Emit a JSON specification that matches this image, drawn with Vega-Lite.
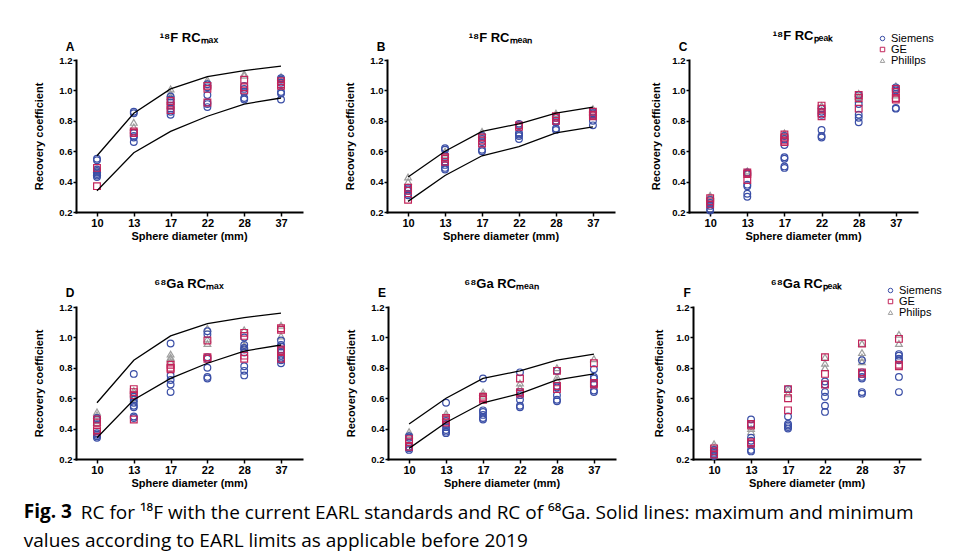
{
"$schema": "https://vega.github.io/schema/vega-lite/v6.json",
"background": "white",
"padding": {"left": 23, "top": 30, "right": 0, "bottom": 0},
"title": {"text": "Fig. 3", "subtitle": "values according to EARL limits as applicable before 2019", "orient": "bottom", "anchor": "start", "frame": "bounds", "font": "Open Sans", "fontSize": 19, "fontWeight": "bold", "color": "black", "subtitleFont": "Open Sans", "subtitleFontSize": 19, "subtitleFontWeight": "normal", "subtitleColor": "black", "subtitlePadding": 10, "offset": -20, "dx": -10},
"datasets": {
"earl": [
{"t":"max","b":"upper","d":10,"rc":0.57},{"t":"max","b":"upper","d":13,"rc":0.85},{"t":"max","b":"upper","d":17,"rc":1.01},{"t":"max","b":"upper","d":22,"rc":1.09},{"t":"max","b":"upper","d":28,"rc":1.13},{"t":"max","b":"upper","d":37,"rc":1.16},
{"t":"max","b":"lower","d":10,"rc":0.34},{"t":"max","b":"lower","d":13,"rc":0.59},{"t":"max","b":"lower","d":17,"rc":0.73},{"t":"max","b":"lower","d":22,"rc":0.83},{"t":"max","b":"lower","d":28,"rc":0.91},{"t":"max","b":"lower","d":37,"rc":0.95},
{"t":"mean","b":"upper","d":10,"rc":0.43},{"t":"mean","b":"upper","d":13,"rc":0.60},{"t":"mean","b":"upper","d":17,"rc":0.73},{"t":"mean","b":"upper","d":22,"rc":0.78},{"t":"mean","b":"upper","d":28,"rc":0.85},{"t":"mean","b":"upper","d":37,"rc":0.89},
{"t":"mean","b":"lower","d":10,"rc":0.27},{"t":"mean","b":"lower","d":13,"rc":0.44},{"t":"mean","b":"lower","d":17,"rc":0.57},{"t":"mean","b":"lower","d":22,"rc":0.63},{"t":"mean","b":"lower","d":28,"rc":0.72},{"t":"mean","b":"lower","d":37,"rc":0.76}
],
"pts": [
{"p":"A","d":10,"v":"Philips","rc":0.48},{"p":"A","d":10,"v":"Philips","rc":0.46},
{"p":"A","d":10,"v":"Siemens","rc":0.55},{"p":"A","d":10,"v":"Siemens","rc":0.54},{"p":"A","d":10,"v":"Siemens","rc":0.48},{"p":"A","d":10,"v":"Siemens","rc":0.47},{"p":"A","d":10,"v":"Siemens","rc":0.46},{"p":"A","d":10,"v":"Siemens","rc":0.45},{"p":"A","d":10,"v":"Siemens","rc":0.44},{"p":"A","d":10,"v":"Siemens","rc":0.43},
{"p":"A","d":10,"v":"GE","rc":0.49},{"p":"A","d":10,"v":"GE","rc":0.37},
{"p":"A","d":13,"v":"Philips","rc":0.79},{"p":"A","d":13,"v":"Philips","rc":0.76},
{"p":"A","d":13,"v":"Siemens","rc":0.86},{"p":"A","d":13,"v":"Siemens","rc":0.85},{"p":"A","d":13,"v":"Siemens","rc":0.72},{"p":"A","d":13,"v":"Siemens","rc":0.70},{"p":"A","d":13,"v":"Siemens","rc":0.69},{"p":"A","d":13,"v":"Siemens","rc":0.66},
{"p":"A","d":13,"v":"GE","rc":0.73},{"p":"A","d":13,"v":"GE","rc":0.72},
{"p":"A","d":17,"v":"Philips","rc":1.01},{"p":"A","d":17,"v":"Philips","rc":0.98},{"p":"A","d":17,"v":"Philips","rc":0.96},
{"p":"A","d":17,"v":"Siemens","rc":0.96},{"p":"A","d":17,"v":"Siemens","rc":0.94},{"p":"A","d":17,"v":"Siemens","rc":0.92},{"p":"A","d":17,"v":"Siemens","rc":0.90},{"p":"A","d":17,"v":"Siemens","rc":0.88},{"p":"A","d":17,"v":"Siemens","rc":0.86},{"p":"A","d":17,"v":"Siemens","rc":0.84},
{"p":"A","d":17,"v":"GE","rc":0.93},{"p":"A","d":17,"v":"GE","rc":0.90},{"p":"A","d":17,"v":"GE","rc":0.87},
{"p":"A","d":22,"v":"Philips","rc":1.07},{"p":"A","d":22,"v":"Philips","rc":1.05},
{"p":"A","d":22,"v":"Siemens","rc":1.04},{"p":"A","d":22,"v":"Siemens","rc":1.02},{"p":"A","d":22,"v":"Siemens","rc":0.97},{"p":"A","d":22,"v":"Siemens","rc":0.92},{"p":"A","d":22,"v":"Siemens","rc":0.91},{"p":"A","d":22,"v":"Siemens","rc":0.89},
{"p":"A","d":22,"v":"GE","rc":1.03},{"p":"A","d":22,"v":"GE","rc":1.01},{"p":"A","d":22,"v":"GE","rc":0.92},
{"p":"A","d":28,"v":"Philips","rc":1.11},{"p":"A","d":28,"v":"Philips","rc":1.10},
{"p":"A","d":28,"v":"Siemens","rc":1.03},{"p":"A","d":28,"v":"Siemens","rc":1.01},{"p":"A","d":28,"v":"Siemens","rc":0.99},{"p":"A","d":28,"v":"Siemens","rc":0.95},{"p":"A","d":28,"v":"Siemens","rc":0.94},
{"p":"A","d":28,"v":"GE","rc":1.07},{"p":"A","d":28,"v":"GE","rc":1.02},{"p":"A","d":28,"v":"GE","rc":1.00},
{"p":"A","d":37,"v":"Philips","rc":1.09},{"p":"A","d":37,"v":"Philips","rc":1.07},
{"p":"A","d":37,"v":"Siemens","rc":1.08},{"p":"A","d":37,"v":"Siemens","rc":1.07},{"p":"A","d":37,"v":"Siemens","rc":1.05},{"p":"A","d":37,"v":"Siemens","rc":0.99},{"p":"A","d":37,"v":"Siemens","rc":0.98},{"p":"A","d":37,"v":"Siemens","rc":0.94},
{"p":"A","d":37,"v":"GE","rc":1.06},{"p":"A","d":37,"v":"GE","rc":1.04},{"p":"A","d":37,"v":"GE","rc":1.03},

{"p":"B","d":10,"v":"Philips","rc":0.43},{"p":"B","d":10,"v":"Philips","rc":0.40},
{"p":"B","d":10,"v":"Siemens","rc":0.36},{"p":"B","d":10,"v":"Siemens","rc":0.35},{"p":"B","d":10,"v":"Siemens","rc":0.34},{"p":"B","d":10,"v":"Siemens","rc":0.32},{"p":"B","d":10,"v":"Siemens","rc":0.31},
{"p":"B","d":10,"v":"GE","rc":0.36},{"p":"B","d":10,"v":"GE","rc":0.34},{"p":"B","d":10,"v":"GE","rc":0.28},
{"p":"B","d":13,"v":"Philips","rc":0.60},{"p":"B","d":13,"v":"Philips","rc":0.58},
{"p":"B","d":13,"v":"Siemens","rc":0.62},{"p":"B","d":13,"v":"Siemens","rc":0.61},{"p":"B","d":13,"v":"Siemens","rc":0.57},{"p":"B","d":13,"v":"Siemens","rc":0.53},{"p":"B","d":13,"v":"Siemens","rc":0.51},{"p":"B","d":13,"v":"Siemens","rc":0.49},{"p":"B","d":13,"v":"Siemens","rc":0.48},
{"p":"B","d":13,"v":"GE","rc":0.56},{"p":"B","d":13,"v":"GE","rc":0.55},{"p":"B","d":13,"v":"GE","rc":0.53},
{"p":"B","d":17,"v":"Philips","rc":0.73},{"p":"B","d":17,"v":"Philips","rc":0.71},
{"p":"B","d":17,"v":"Siemens","rc":0.70},{"p":"B","d":17,"v":"Siemens","rc":0.68},{"p":"B","d":17,"v":"Siemens","rc":0.66},{"p":"B","d":17,"v":"Siemens","rc":0.61},{"p":"B","d":17,"v":"Siemens","rc":0.60},
{"p":"B","d":17,"v":"GE","rc":0.69},{"p":"B","d":17,"v":"GE","rc":0.67},{"p":"B","d":17,"v":"GE","rc":0.65},
{"p":"B","d":22,"v":"Philips","rc":0.78},
{"p":"B","d":22,"v":"Siemens","rc":0.78},{"p":"B","d":22,"v":"Siemens","rc":0.77},{"p":"B","d":22,"v":"Siemens","rc":0.72},{"p":"B","d":22,"v":"Siemens","rc":0.71},{"p":"B","d":22,"v":"Siemens","rc":0.70},{"p":"B","d":22,"v":"Siemens","rc":0.68},
{"p":"B","d":22,"v":"GE","rc":0.77},{"p":"B","d":22,"v":"GE","rc":0.76},
{"p":"B","d":28,"v":"Philips","rc":0.85},{"p":"B","d":28,"v":"Philips","rc":0.84},
{"p":"B","d":28,"v":"Siemens","rc":0.82},{"p":"B","d":28,"v":"Siemens","rc":0.80},{"p":"B","d":28,"v":"Siemens","rc":0.79},{"p":"B","d":28,"v":"Siemens","rc":0.75},{"p":"B","d":28,"v":"Siemens","rc":0.74},
{"p":"B","d":28,"v":"GE","rc":0.83},{"p":"B","d":28,"v":"GE","rc":0.82},{"p":"B","d":28,"v":"GE","rc":0.80},
{"p":"B","d":37,"v":"Philips","rc":0.88},{"p":"B","d":37,"v":"Philips","rc":0.86},
{"p":"B","d":37,"v":"Siemens","rc":0.86},{"p":"B","d":37,"v":"Siemens","rc":0.85},{"p":"B","d":37,"v":"Siemens","rc":0.84},{"p":"B","d":37,"v":"Siemens","rc":0.80},{"p":"B","d":37,"v":"Siemens","rc":0.77},
{"p":"B","d":37,"v":"GE","rc":0.86},{"p":"B","d":37,"v":"GE","rc":0.84},{"p":"B","d":37,"v":"GE","rc":0.83},

{"p":"C","d":10,"v":"Philips","rc":0.31},{"p":"C","d":10,"v":"Philips","rc":0.30},
{"p":"C","d":10,"v":"Siemens","rc":0.28},{"p":"C","d":10,"v":"Siemens","rc":0.26},{"p":"C","d":10,"v":"Siemens","rc":0.24},{"p":"C","d":10,"v":"Siemens","rc":0.22},{"p":"C","d":10,"v":"Siemens","rc":0.21},
{"p":"C","d":10,"v":"GE","rc":0.29},{"p":"C","d":10,"v":"GE","rc":0.27},{"p":"C","d":10,"v":"GE","rc":0.25},
{"p":"C","d":13,"v":"Philips","rc":0.47},{"p":"C","d":13,"v":"Philips","rc":0.46},
{"p":"C","d":13,"v":"Siemens","rc":0.46},{"p":"C","d":13,"v":"Siemens","rc":0.45},{"p":"C","d":13,"v":"Siemens","rc":0.38},{"p":"C","d":13,"v":"Siemens","rc":0.37},{"p":"C","d":13,"v":"Siemens","rc":0.32},{"p":"C","d":13,"v":"Siemens","rc":0.30},
{"p":"C","d":13,"v":"GE","rc":0.46},{"p":"C","d":13,"v":"GE","rc":0.45},{"p":"C","d":13,"v":"GE","rc":0.41},
{"p":"C","d":17,"v":"Philips","rc":0.72},{"p":"C","d":17,"v":"Philips","rc":0.70},
{"p":"C","d":17,"v":"Siemens","rc":0.70},{"p":"C","d":17,"v":"Siemens","rc":0.68},{"p":"C","d":17,"v":"Siemens","rc":0.64},{"p":"C","d":17,"v":"Siemens","rc":0.56},{"p":"C","d":17,"v":"Siemens","rc":0.55},{"p":"C","d":17,"v":"Siemens","rc":0.50},{"p":"C","d":17,"v":"Siemens","rc":0.49},
{"p":"C","d":17,"v":"GE","rc":0.71},{"p":"C","d":17,"v":"GE","rc":0.69},{"p":"C","d":17,"v":"GE","rc":0.67},{"p":"C","d":17,"v":"GE","rc":0.66},
{"p":"C","d":22,"v":"Philips","rc":0.90},{"p":"C","d":22,"v":"Philips","rc":0.87},
{"p":"C","d":22,"v":"Siemens","rc":0.88},{"p":"C","d":22,"v":"Siemens","rc":0.86},{"p":"C","d":22,"v":"Siemens","rc":0.84},{"p":"C","d":22,"v":"Siemens","rc":0.74},{"p":"C","d":22,"v":"Siemens","rc":0.70},{"p":"C","d":22,"v":"Siemens","rc":0.69},
{"p":"C","d":22,"v":"GE","rc":0.90},{"p":"C","d":22,"v":"GE","rc":0.88},{"p":"C","d":22,"v":"GE","rc":0.85},{"p":"C","d":22,"v":"GE","rc":0.83},
{"p":"C","d":28,"v":"Philips","rc":0.98},{"p":"C","d":28,"v":"Philips","rc":0.96},{"p":"C","d":28,"v":"Philips","rc":0.94},
{"p":"C","d":28,"v":"Siemens","rc":0.97},{"p":"C","d":28,"v":"Siemens","rc":0.91},{"p":"C","d":28,"v":"Siemens","rc":0.84},{"p":"C","d":28,"v":"Siemens","rc":0.82},{"p":"C","d":28,"v":"Siemens","rc":0.79},
{"p":"C","d":28,"v":"GE","rc":0.97},{"p":"C","d":28,"v":"GE","rc":0.95},{"p":"C","d":28,"v":"GE","rc":0.88},
{"p":"C","d":37,"v":"Philips","rc":1.03},{"p":"C","d":37,"v":"Philips","rc":0.97},
{"p":"C","d":37,"v":"Siemens","rc":1.02},{"p":"C","d":37,"v":"Siemens","rc":1.01},{"p":"C","d":37,"v":"Siemens","rc":1.00},{"p":"C","d":37,"v":"Siemens","rc":0.88},{"p":"C","d":37,"v":"Siemens","rc":0.885},
{"p":"C","d":37,"v":"GE","rc":1.01},{"p":"C","d":37,"v":"GE","rc":0.99},{"p":"C","d":37,"v":"GE","rc":0.95},{"p":"C","d":37,"v":"GE","rc":0.94},

{"p":"D","d":10,"v":"Philips","rc":0.51},{"p":"D","d":10,"v":"Philips","rc":0.49},{"p":"D","d":10,"v":"Philips","rc":0.44},
{"p":"D","d":10,"v":"Siemens","rc":0.47},{"p":"D","d":10,"v":"Siemens","rc":0.46},{"p":"D","d":10,"v":"Siemens","rc":0.37},{"p":"D","d":10,"v":"Siemens","rc":0.36},{"p":"D","d":10,"v":"Siemens","rc":0.35},{"p":"D","d":10,"v":"Siemens","rc":0.34},
{"p":"D","d":10,"v":"GE","rc":0.46},{"p":"D","d":10,"v":"GE","rc":0.44},{"p":"D","d":10,"v":"GE","rc":0.39},{"p":"D","d":10,"v":"GE","rc":0.38},
{"p":"D","d":13,"v":"Philips","rc":0.65},{"p":"D","d":13,"v":"Philips","rc":0.63},{"p":"D","d":13,"v":"Philips","rc":0.60},
{"p":"D","d":13,"v":"Siemens","rc":0.76},{"p":"D","d":13,"v":"Siemens","rc":0.61},{"p":"D","d":13,"v":"Siemens","rc":0.59},{"p":"D","d":13,"v":"Siemens","rc":0.57},{"p":"D","d":13,"v":"Siemens","rc":0.55},{"p":"D","d":13,"v":"Siemens","rc":0.54},{"p":"D","d":13,"v":"Siemens","rc":0.48},{"p":"D","d":13,"v":"Siemens","rc":0.47},
{"p":"D","d":13,"v":"GE","rc":0.66},{"p":"D","d":13,"v":"GE","rc":0.64},{"p":"D","d":13,"v":"GE","rc":0.62},{"p":"D","d":13,"v":"GE","rc":0.46},
{"p":"D","d":17,"v":"Philips","rc":0.89},{"p":"D","d":17,"v":"Philips","rc":0.87},{"p":"D","d":17,"v":"Philips","rc":0.86},{"p":"D","d":17,"v":"Philips","rc":0.84},
{"p":"D","d":17,"v":"Siemens","rc":0.96},{"p":"D","d":17,"v":"Siemens","rc":0.75},{"p":"D","d":17,"v":"Siemens","rc":0.72},{"p":"D","d":17,"v":"Siemens","rc":0.69},{"p":"D","d":17,"v":"Siemens","rc":0.64},
{"p":"D","d":17,"v":"GE","rc":0.82},{"p":"D","d":17,"v":"GE","rc":0.80},{"p":"D","d":17,"v":"GE","rc":0.79},
{"p":"D","d":22,"v":"Philips","rc":1.06},{"p":"D","d":22,"v":"Philips","rc":0.99},{"p":"D","d":22,"v":"Philips","rc":0.96},
{"p":"D","d":22,"v":"Siemens","rc":1.04},{"p":"D","d":22,"v":"Siemens","rc":1.02},{"p":"D","d":22,"v":"Siemens","rc":0.87},{"p":"D","d":22,"v":"Siemens","rc":0.86},{"p":"D","d":22,"v":"Siemens","rc":0.80},{"p":"D","d":22,"v":"Siemens","rc":0.74},{"p":"D","d":22,"v":"Siemens","rc":0.73},
{"p":"D","d":22,"v":"GE","rc":0.98},{"p":"D","d":22,"v":"GE","rc":0.87},{"p":"D","d":22,"v":"GE","rc":0.86},
{"p":"D","d":28,"v":"Philips","rc":1.05},{"p":"D","d":28,"v":"Philips","rc":0.95},{"p":"D","d":28,"v":"Philips","rc":0.94},
{"p":"D","d":28,"v":"Siemens","rc":1.00},{"p":"D","d":28,"v":"Siemens","rc":0.95},{"p":"D","d":28,"v":"Siemens","rc":0.93},{"p":"D","d":28,"v":"Siemens","rc":0.92},{"p":"D","d":28,"v":"Siemens","rc":0.90},{"p":"D","d":28,"v":"Siemens","rc":0.81},{"p":"D","d":28,"v":"Siemens","rc":0.78},{"p":"D","d":28,"v":"Siemens","rc":0.75},
{"p":"D","d":28,"v":"GE","rc":1.03},{"p":"D","d":28,"v":"GE","rc":1.01},{"p":"D","d":28,"v":"GE","rc":0.88},{"p":"D","d":28,"v":"GE","rc":0.86},
{"p":"D","d":37,"v":"Philips","rc":1.08},{"p":"D","d":37,"v":"Philips","rc":1.01},
{"p":"D","d":37,"v":"Siemens","rc":0.98},{"p":"D","d":37,"v":"Siemens","rc":0.95},{"p":"D","d":37,"v":"Siemens","rc":0.94},{"p":"D","d":37,"v":"Siemens","rc":0.92},{"p":"D","d":37,"v":"Siemens","rc":0.90},{"p":"D","d":37,"v":"Siemens","rc":0.88},{"p":"D","d":37,"v":"Siemens","rc":0.86},{"p":"D","d":37,"v":"Siemens","rc":0.85},{"p":"D","d":37,"v":"Siemens","rc":0.83},
{"p":"D","d":37,"v":"GE","rc":1.06},{"p":"D","d":37,"v":"GE","rc":1.05},{"p":"D","d":37,"v":"GE","rc":0.92},{"p":"D","d":37,"v":"GE","rc":0.91},{"p":"D","d":37,"v":"GE","rc":0.86},

{"p":"E","d":10,"v":"Philips","rc":0.38},{"p":"E","d":10,"v":"Philips","rc":0.36},
{"p":"E","d":10,"v":"Siemens","rc":0.35},{"p":"E","d":10,"v":"Siemens","rc":0.34},{"p":"E","d":10,"v":"Siemens","rc":0.28},{"p":"E","d":10,"v":"Siemens","rc":0.27},{"p":"E","d":10,"v":"Siemens","rc":0.26},
{"p":"E","d":10,"v":"GE","rc":0.33},{"p":"E","d":10,"v":"GE","rc":0.31},{"p":"E","d":10,"v":"GE","rc":0.28},
{"p":"E","d":13,"v":"Philips","rc":0.50},{"p":"E","d":13,"v":"Philips","rc":0.48},
{"p":"E","d":13,"v":"Siemens","rc":0.57},{"p":"E","d":13,"v":"Siemens","rc":0.45},{"p":"E","d":13,"v":"Siemens","rc":0.43},{"p":"E","d":13,"v":"Siemens","rc":0.41},{"p":"E","d":13,"v":"Siemens","rc":0.39},{"p":"E","d":13,"v":"Siemens","rc":0.38},{"p":"E","d":13,"v":"Siemens","rc":0.37},
{"p":"E","d":13,"v":"GE","rc":0.47},{"p":"E","d":13,"v":"GE","rc":0.46},{"p":"E","d":13,"v":"GE","rc":0.44},
{"p":"E","d":17,"v":"Philips","rc":0.64},{"p":"E","d":17,"v":"Philips","rc":0.62},
{"p":"E","d":17,"v":"Siemens","rc":0.73},{"p":"E","d":17,"v":"Siemens","rc":0.52},{"p":"E","d":17,"v":"Siemens","rc":0.51},{"p":"E","d":17,"v":"Siemens","rc":0.49},{"p":"E","d":17,"v":"Siemens","rc":0.47},{"p":"E","d":17,"v":"Siemens","rc":0.46},
{"p":"E","d":17,"v":"GE","rc":0.61},{"p":"E","d":17,"v":"GE","rc":0.60},{"p":"E","d":17,"v":"GE","rc":0.59},
{"p":"E","d":22,"v":"Philips","rc":0.70},{"p":"E","d":22,"v":"Philips","rc":0.67},
{"p":"E","d":22,"v":"Siemens","rc":0.77},{"p":"E","d":22,"v":"Siemens","rc":0.64},{"p":"E","d":22,"v":"Siemens","rc":0.62},{"p":"E","d":22,"v":"Siemens","rc":0.59},{"p":"E","d":22,"v":"Siemens","rc":0.55},{"p":"E","d":22,"v":"Siemens","rc":0.54},
{"p":"E","d":22,"v":"GE","rc":0.73},{"p":"E","d":22,"v":"GE","rc":0.64},{"p":"E","d":22,"v":"GE","rc":0.63},
{"p":"E","d":28,"v":"Philips","rc":0.80},{"p":"E","d":28,"v":"Philips","rc":0.74},{"p":"E","d":28,"v":"Philips","rc":0.72},
{"p":"E","d":28,"v":"Siemens","rc":0.78},{"p":"E","d":28,"v":"Siemens","rc":0.68},{"p":"E","d":28,"v":"Siemens","rc":0.67},{"p":"E","d":28,"v":"Siemens","rc":0.62},{"p":"E","d":28,"v":"Siemens","rc":0.59},{"p":"E","d":28,"v":"Siemens","rc":0.58},
{"p":"E","d":28,"v":"GE","rc":0.78},{"p":"E","d":28,"v":"GE","rc":0.68},{"p":"E","d":28,"v":"GE","rc":0.66},
{"p":"E","d":37,"v":"Philips","rc":0.86},
{"p":"E","d":37,"v":"Siemens","rc":0.79},{"p":"E","d":37,"v":"Siemens","rc":0.74},{"p":"E","d":37,"v":"Siemens","rc":0.73},{"p":"E","d":37,"v":"Siemens","rc":0.70},{"p":"E","d":37,"v":"Siemens","rc":0.69},{"p":"E","d":37,"v":"Siemens","rc":0.65},{"p":"E","d":37,"v":"Siemens","rc":0.64},
{"p":"E","d":37,"v":"GE","rc":0.83},{"p":"E","d":37,"v":"GE","rc":0.70},{"p":"E","d":37,"v":"GE","rc":0.69},

{"p":"F","d":10,"v":"Philips","rc":0.30},{"p":"F","d":10,"v":"Philips","rc":0.28},
{"p":"F","d":10,"v":"Siemens","rc":0.26},{"p":"F","d":10,"v":"Siemens","rc":0.25},{"p":"F","d":10,"v":"Siemens","rc":0.24},{"p":"F","d":10,"v":"Siemens","rc":0.23},{"p":"F","d":10,"v":"Siemens","rc":0.22},
{"p":"F","d":10,"v":"GE","rc":0.27},{"p":"F","d":10,"v":"GE","rc":0.25},{"p":"F","d":10,"v":"GE","rc":0.23},
{"p":"F","d":13,"v":"Philips","rc":0.40},{"p":"F","d":13,"v":"Philips","rc":0.38},
{"p":"F","d":13,"v":"Siemens","rc":0.46},{"p":"F","d":13,"v":"Siemens","rc":0.43},{"p":"F","d":13,"v":"Siemens","rc":0.34},{"p":"F","d":13,"v":"Siemens","rc":0.32},{"p":"F","d":13,"v":"Siemens","rc":0.30},{"p":"F","d":13,"v":"Siemens","rc":0.26},{"p":"F","d":13,"v":"Siemens","rc":0.25},
{"p":"F","d":13,"v":"GE","rc":0.43},{"p":"F","d":13,"v":"GE","rc":0.42},{"p":"F","d":13,"v":"GE","rc":0.31},{"p":"F","d":13,"v":"GE","rc":0.30},
{"p":"F","d":17,"v":"Philips","rc":0.66},{"p":"F","d":17,"v":"Philips","rc":0.63},
{"p":"F","d":17,"v":"Siemens","rc":0.66},{"p":"F","d":17,"v":"Siemens","rc":0.48},{"p":"F","d":17,"v":"Siemens","rc":0.43},{"p":"F","d":17,"v":"Siemens","rc":0.42},{"p":"F","d":17,"v":"Siemens","rc":0.41},{"p":"F","d":17,"v":"Siemens","rc":0.40},
{"p":"F","d":17,"v":"GE","rc":0.66},{"p":"F","d":17,"v":"GE","rc":0.60},{"p":"F","d":17,"v":"GE","rc":0.52},
{"p":"F","d":22,"v":"Philips","rc":0.87},{"p":"F","d":22,"v":"Philips","rc":0.83},{"p":"F","d":22,"v":"Philips","rc":0.80},
{"p":"F","d":22,"v":"Siemens","rc":0.71},{"p":"F","d":22,"v":"Siemens","rc":0.69},{"p":"F","d":22,"v":"Siemens","rc":0.64},{"p":"F","d":22,"v":"Siemens","rc":0.61},{"p":"F","d":22,"v":"Siemens","rc":0.55},{"p":"F","d":22,"v":"Siemens","rc":0.51},
{"p":"F","d":22,"v":"GE","rc":0.87},{"p":"F","d":22,"v":"GE","rc":0.76},{"p":"F","d":22,"v":"GE","rc":0.69},
{"p":"F","d":28,"v":"Philips","rc":0.96},{"p":"F","d":28,"v":"Philips","rc":0.90},{"p":"F","d":28,"v":"Philips","rc":0.87},{"p":"F","d":28,"v":"Philips","rc":0.84},
{"p":"F","d":28,"v":"Siemens","rc":0.85},{"p":"F","d":28,"v":"Siemens","rc":0.77},{"p":"F","d":28,"v":"Siemens","rc":0.76},{"p":"F","d":28,"v":"Siemens","rc":0.74},{"p":"F","d":28,"v":"Siemens","rc":0.73},{"p":"F","d":28,"v":"Siemens","rc":0.64},{"p":"F","d":28,"v":"Siemens","rc":0.63},
{"p":"F","d":28,"v":"GE","rc":0.96},{"p":"F","d":28,"v":"GE","rc":0.77},{"p":"F","d":28,"v":"GE","rc":0.76},
{"p":"F","d":37,"v":"Philips","rc":1.02},{"p":"F","d":37,"v":"Philips","rc":0.96},
{"p":"F","d":37,"v":"Siemens","rc":0.89},{"p":"F","d":37,"v":"Siemens","rc":0.88},{"p":"F","d":37,"v":"Siemens","rc":0.86},{"p":"F","d":37,"v":"Siemens","rc":0.85},{"p":"F","d":37,"v":"Siemens","rc":0.74},{"p":"F","d":37,"v":"Siemens","rc":0.64},
{"p":"F","d":37,"v":"GE","rc":0.99},{"p":"F","d":37,"v":"GE","rc":0.82},{"p":"F","d":37,"v":"GE","rc":0.81}
]
},
"spacing": 37,
"resolve": {"scale": {"color": "independent", "shape": "independent"}},
"vconcat": [
{
"spacing": 42,
"resolve": {"scale": {"color": "independent", "shape": "independent"}},
"hconcat": [
{
"width": 226, "height": 152,
"title": {"text": "¹⁸F RCₘₐₓ", "offset": -4},
"layer": [
{"data": {"name": "pts"}, "transform": [{"filter": "datum.p == 'A'"}], "mark": {"type": "point", "filled": false, "size": 45, "strokeWidth": 1.2, "opacity": 1},
 "encoding": {
  "x": {"field": "d", "type": "ordinal", "scale": {"type": "point", "padding": 0.57, "domain": [10,13,17,22,28,37]}, "axis": {"title": "Sphere diameter (mm)"}},
  "y": {"field": "rc", "type": "quantitative", "scale": {"domain": [0.2,1.2], "nice": false, "zero": false}, "axis": {"title": "Recovery coefficient", "values": [0.2,0.4,0.6,0.8,1.0,1.2], "format": ".1f", "labelOverlap": false}},
  "shape": {"field": "v", "type": "nominal", "scale": {"domain": ["Siemens","GE","Philips"], "range": ["circle","square","triangle-up"]}, "legend": null},
  "color": {"field": "v", "type": "nominal", "scale": {"domain": ["Siemens","GE","Philips"], "range": ["#3a4ea6","#c2245a","#9e9e9e"]}, "legend": null}}},
{"data": {"name": "earl"}, "transform": [{"filter": "datum.t == 'max'"}], "mark": {"type": "line", "color": "black", "strokeWidth": 1.3},
 "encoding": {
  "x": {"field": "d", "type": "ordinal", "axis": {"title": "Sphere diameter (mm)"}},
  "y": {"field": "rc", "type": "quantitative", "axis": {"title": "Recovery coefficient", "values": [0.2,0.4,0.6,0.8,1.0,1.2], "format": ".1f", "labelOverlap": false}},
  "detail": {"field": "b"}}},
{"data": {"name": "pts"}, "transform": [{"filter": "datum.p == 'A'"}, {"aggregate": [{"op": "min", "field": "d", "as": "d"}, {"op": "max", "field": "rc", "as": "rc"}]}], "mark": {"type": "text", "font": "Liberation Sans", "fontSize": 12, "fontWeight": "bold", "fill": "black", "align": "center", "baseline": "middle", "dx": -27, "dy": -13},
 "encoding": {"x": {"field": "d", "type": "ordinal", "axis": {"title": "Sphere diameter (mm)"}}, "y": {"datum": 1.2, "type": "quantitative", "axis": {"title": "Recovery coefficient", "values": [0.2,0.4,0.6,0.8,1.0,1.2], "format": ".1f", "labelOverlap": false}}, "text": {"value": "A"}}}
]
},
{
"spacing": 36,
"resolve": {"scale": {"color": "independent", "shape": "independent"}},
"hconcat": [
{
"width": 227, "height": 152,
"title": {"text": "¹⁸F RCₘₑₐₙ", "offset": -4},
"layer": [
{"data": {"name": "pts"}, "transform": [{"filter": "datum.p == 'B'"}], "mark": {"type": "point", "filled": false, "size": 45, "strokeWidth": 1.2, "opacity": 1},
 "encoding": {
  "x": {"field": "d", "type": "ordinal", "scale": {"type": "point", "padding": 0.57, "domain": [10,13,17,22,28,37]}, "axis": {"title": "Sphere diameter (mm)"}},
  "y": {"field": "rc", "type": "quantitative", "scale": {"domain": [0.2,1.2], "nice": false, "zero": false}, "axis": {"title": "Recovery coefficient", "values": [0.2,0.4,0.6,0.8,1.0,1.2], "format": ".1f", "labelOverlap": false}},
  "shape": {"field": "v", "type": "nominal", "scale": {"domain": ["Siemens","GE","Philips"], "range": ["circle","square","triangle-up"]}, "legend": null},
  "color": {"field": "v", "type": "nominal", "scale": {"domain": ["Siemens","GE","Philips"], "range": ["#3a4ea6","#c2245a","#9e9e9e"]}, "legend": null}}},
{"data": {"name": "earl"}, "transform": [{"filter": "datum.t == 'mean'"}], "mark": {"type": "line", "color": "black", "strokeWidth": 1.3},
 "encoding": {
  "x": {"field": "d", "type": "ordinal", "axis": {"title": "Sphere diameter (mm)"}},
  "y": {"field": "rc", "type": "quantitative", "axis": {"title": "Recovery coefficient", "values": [0.2,0.4,0.6,0.8,1.0,1.2], "format": ".1f", "labelOverlap": false}},
  "detail": {"field": "b"}}},
{"data": {"name": "pts"}, "transform": [{"filter": "datum.p == 'B'"}, {"aggregate": [{"op": "min", "field": "d", "as": "d"}, {"op": "max", "field": "rc", "as": "rc"}]}], "mark": {"type": "text", "font": "Liberation Sans", "fontSize": 12, "fontWeight": "bold", "fill": "black", "align": "center", "baseline": "middle", "dx": -27, "dy": -13},
 "encoding": {"x": {"field": "d", "type": "ordinal", "axis": {"title": "Sphere diameter (mm)"}}, "y": {"datum": 1.2, "type": "quantitative", "axis": {"title": "Recovery coefficient", "values": [0.2,0.4,0.6,0.8,1.0,1.2], "format": ".1f", "labelOverlap": false}}, "text": {"value": "B"}}}
]
},
{
"width": 228, "height": 152,
"title": {"text": "¹⁸F RCₚₑₐₖ", "offset": -10},
"layer": [
{"data": {"name": "pts"}, "transform": [{"filter": "datum.p == 'C'"}], "mark": {"type": "point", "filled": false, "size": 45, "strokeWidth": 1.2, "opacity": 1},
 "encoding": {
  "x": {"field": "d", "type": "ordinal", "scale": {"type": "point", "padding": 0.57, "domain": [10,13,17,22,28,37]}, "axis": {"title": "Sphere diameter (mm)"}},
  "y": {"field": "rc", "type": "quantitative", "scale": {"domain": [0.2,1.2], "nice": false, "zero": false}, "axis": {"title": "Recovery coefficient", "titlePadding": 10, "values": [0.2,0.4,0.6,0.8,1.0,1.2], "format": ".1f", "labelOverlap": false}},
  "shape": {"field": "v", "type": "nominal", "scale": {"domain": ["Siemens","GE","Philips"], "range": ["circle","square","triangle-up"]}, "legend": {"orient": "none", "legendX": 188, "legendY": -27, "title": null, "labelFont": "Liberation Sans", "labelFontSize": 11, "labelColor": "black", "symbolSize": 20, "symbolStrokeWidth": 1, "rowPadding": -1, "labelOffset": 3, "labelExpr": "datum.label == 'Philips' ? 'Phililps' : datum.label"}},
  "color": {"field": "v", "type": "nominal", "scale": {"domain": ["Siemens","GE","Philips"], "range": ["#3a4ea6","#c2245a","#9e9e9e"]}, "legend": {"orient": "none", "legendX": 188, "legendY": -27, "title": null, "labelFont": "Liberation Sans", "labelFontSize": 11, "labelColor": "black", "symbolSize": 20, "symbolStrokeWidth": 1, "rowPadding": -1, "labelOffset": 3, "labelExpr": "datum.label == 'Philips' ? 'Phililps' : datum.label"}}}},
{"data": {"name": "pts"}, "transform": [{"filter": "datum.p == 'C'"}, {"aggregate": [{"op": "min", "field": "d", "as": "d"}, {"op": "max", "field": "rc", "as": "rc"}]}], "mark": {"type": "text", "font": "Liberation Sans", "fontSize": 12, "fontWeight": "bold", "fill": "black", "align": "center", "baseline": "middle", "dx": -27, "dy": -13},
 "encoding": {"x": {"field": "d", "type": "ordinal", "axis": {"title": "Sphere diameter (mm)"}}, "y": {"datum": 1.2, "type": "quantitative", "axis": {"title": "Recovery coefficient", "titlePadding": 10, "values": [0.2,0.4,0.6,0.8,1.0,1.2], "format": ".1f", "labelOverlap": false}}, "text": {"value": "C"}}}
]
}
]
}
]
},
{
"spacing": 43,
"resolve": {"scale": {"color": "independent", "shape": "independent"}},
"title": {"text": "RC for ¹⁸F with the current EARL standards and RC of ⁶⁸Ga. Solid lines: maximum and minimum", "orient": "bottom", "anchor": "start", "frame": "bounds", "font": "Open Sans", "fontSize": 19, "fontWeight": "normal", "color": "black", "dx": 47, "offset": 16},
"hconcat": [
{
"width": 226, "height": 152,
"title": {"text": "⁶⁸Ga RCₘₐₓ", "offset": -4},
"layer": [
{"data": {"name": "pts"}, "transform": [{"filter": "datum.p == 'D'"}], "mark": {"type": "point", "filled": false, "size": 45, "strokeWidth": 1.2, "opacity": 1},
 "encoding": {
  "x": {"field": "d", "type": "ordinal", "scale": {"type": "point", "padding": 0.57, "domain": [10,13,17,22,28,37]}, "axis": {"title": "Sphere diameter (mm)"}},
  "y": {"field": "rc", "type": "quantitative", "scale": {"domain": [0.2,1.2], "nice": false, "zero": false}, "axis": {"title": "Recovery coefficient", "values": [0.2,0.4,0.6,0.8,1.0,1.2], "format": ".1f", "labelOverlap": false}},
  "shape": {"field": "v", "type": "nominal", "scale": {"domain": ["Siemens","GE","Philips"], "range": ["circle","square","triangle-up"]}, "legend": null},
  "color": {"field": "v", "type": "nominal", "scale": {"domain": ["Siemens","GE","Philips"], "range": ["#3a4ea6","#c2245a","#9e9e9e"]}, "legend": null}}},
{"data": {"name": "earl"}, "transform": [{"filter": "datum.t == 'max'"}], "mark": {"type": "line", "color": "black", "strokeWidth": 1.3},
 "encoding": {
  "x": {"field": "d", "type": "ordinal", "axis": {"title": "Sphere diameter (mm)"}},
  "y": {"field": "rc", "type": "quantitative", "axis": {"title": "Recovery coefficient", "values": [0.2,0.4,0.6,0.8,1.0,1.2], "format": ".1f", "labelOverlap": false}},
  "detail": {"field": "b"}}},
{"data": {"name": "pts"}, "transform": [{"filter": "datum.p == 'D'"}, {"aggregate": [{"op": "min", "field": "d", "as": "d"}, {"op": "max", "field": "rc", "as": "rc"}]}], "mark": {"type": "text", "font": "Liberation Sans", "fontSize": 12, "fontWeight": "bold", "fill": "black", "align": "center", "baseline": "middle", "dx": -27, "dy": -14},
 "encoding": {"x": {"field": "d", "type": "ordinal", "axis": {"title": "Sphere diameter (mm)"}}, "y": {"datum": 1.2, "type": "quantitative", "axis": {"title": "Recovery coefficient", "values": [0.2,0.4,0.6,0.8,1.0,1.2], "format": ".1f", "labelOverlap": false}}, "text": {"value": "D"}}}
]
},
{
"spacing": 38,
"resolve": {"scale": {"color": "independent", "shape": "independent"}},
"hconcat": [
{
"width": 227, "height": 152,
"title": {"text": "⁶⁸Ga RCₘₑₐₙ", "offset": -4},
"layer": [
{"data": {"name": "pts"}, "transform": [{"filter": "datum.p == 'E'"}], "mark": {"type": "point", "filled": false, "size": 45, "strokeWidth": 1.2, "opacity": 1},
 "encoding": {
  "x": {"field": "d", "type": "ordinal", "scale": {"type": "point", "padding": 0.57, "domain": [10,13,17,22,28,37]}, "axis": {"title": "Sphere diameter (mm)"}},
  "y": {"field": "rc", "type": "quantitative", "scale": {"domain": [0.2,1.2], "nice": false, "zero": false}, "axis": {"title": "Recovery coefficient", "values": [0.2,0.4,0.6,0.8,1.0,1.2], "format": ".1f", "labelOverlap": false}},
  "shape": {"field": "v", "type": "nominal", "scale": {"domain": ["Siemens","GE","Philips"], "range": ["circle","square","triangle-up"]}, "legend": null},
  "color": {"field": "v", "type": "nominal", "scale": {"domain": ["Siemens","GE","Philips"], "range": ["#3a4ea6","#c2245a","#9e9e9e"]}, "legend": null}}},
{"data": {"name": "earl"}, "transform": [{"filter": "datum.t == 'mean'"}], "mark": {"type": "line", "color": "black", "strokeWidth": 1.3},
 "encoding": {
  "x": {"field": "d", "type": "ordinal", "axis": {"title": "Sphere diameter (mm)"}},
  "y": {"field": "rc", "type": "quantitative", "axis": {"title": "Recovery coefficient", "values": [0.2,0.4,0.6,0.8,1.0,1.2], "format": ".1f", "labelOverlap": false}},
  "detail": {"field": "b"}}},
{"data": {"name": "pts"}, "transform": [{"filter": "datum.p == 'E'"}, {"aggregate": [{"op": "min", "field": "d", "as": "d"}, {"op": "max", "field": "rc", "as": "rc"}]}], "mark": {"type": "text", "font": "Liberation Sans", "fontSize": 12, "fontWeight": "bold", "fill": "black", "align": "center", "baseline": "middle", "dx": -27, "dy": -14},
 "encoding": {"x": {"field": "d", "type": "ordinal", "axis": {"title": "Sphere diameter (mm)"}}, "y": {"datum": 1.2, "type": "quantitative", "axis": {"title": "Recovery coefficient", "values": [0.2,0.4,0.6,0.8,1.0,1.2], "format": ".1f", "labelOverlap": false}}, "text": {"value": "E"}}}
]
},
{
"width": 227, "height": 152,
"title": {"text": "⁶⁸Ga RCₚₑₐₖ", "offset": -6},
"layer": [
{"data": {"name": "pts"}, "transform": [{"filter": "datum.p == 'F'"}], "mark": {"type": "point", "filled": false, "size": 45, "strokeWidth": 1.2, "opacity": 1},
 "encoding": {
  "x": {"field": "d", "type": "ordinal", "scale": {"type": "point", "padding": 0.57, "domain": [10,13,17,22,28,37]}, "axis": {"title": "Sphere diameter (mm)"}},
  "y": {"field": "rc", "type": "quantitative", "scale": {"domain": [0.2,1.2], "nice": false, "zero": false}, "axis": {"title": "Recovery coefficient", "titlePadding": 11, "values": [0.2,0.4,0.6,0.8,1.0,1.2], "format": ".1f", "labelOverlap": false}},
  "shape": {"field": "v", "type": "nominal", "scale": {"domain": ["Siemens","GE","Philips"], "range": ["circle","square","triangle-up"]}, "legend": {"orient": "none", "legendX": 192, "legendY": -22, "title": null, "labelFont": "Liberation Sans", "labelFontSize": 11, "labelColor": "black", "symbolSize": 20, "symbolStrokeWidth": 1, "rowPadding": -1, "labelOffset": 3}},
  "color": {"field": "v", "type": "nominal", "scale": {"domain": ["Siemens","GE","Philips"], "range": ["#3a4ea6","#c2245a","#9e9e9e"]}, "legend": {"orient": "none", "legendX": 192, "legendY": -22, "title": null, "labelFont": "Liberation Sans", "labelFontSize": 11, "labelColor": "black", "symbolSize": 20, "symbolStrokeWidth": 1, "rowPadding": -1, "labelOffset": 3}}}},
{"data": {"name": "pts"}, "transform": [{"filter": "datum.p == 'F'"}, {"aggregate": [{"op": "min", "field": "d", "as": "d"}, {"op": "max", "field": "rc", "as": "rc"}]}], "mark": {"type": "text", "font": "Liberation Sans", "fontSize": 12, "fontWeight": "bold", "fill": "black", "align": "center", "baseline": "middle", "dx": -27, "dy": -14},
 "encoding": {"x": {"field": "d", "type": "ordinal", "axis": {"title": "Sphere diameter (mm)"}}, "y": {"datum": 1.2, "type": "quantitative", "axis": {"title": "Recovery coefficient", "titlePadding": 11, "values": [0.2,0.4,0.6,0.8,1.0,1.2], "format": ".1f", "labelOverlap": false}}, "text": {"value": "F"}}}
]
}
]
}
]
}
],
"config": {
"view": {"stroke": null},
"font": "Liberation Sans",
"axis": {"grid": false, "domainColor": "black", "domainWidth": 2, "domainCap": "square", "tickColor": "black", "tickWidth": 1.5, "labelColor": "black", "labelFont": "Liberation Sans", "labelFontWeight": "bold", "titleFont": "Liberation Sans", "titleFontWeight": "bold", "titleFontSize": 11, "titleColor": "black"},
"axisX": {"labelAngle": 0, "labelFontSize": 11, "tickSize": 4, "labelPadding": 1, "titlePadding": 2},
"axisY": {"labelFontSize": 9.5, "tickSize": 3, "labelPadding": 1, "titlePadding": 14, "labelOverlap": false},
"title": {"font": "Liberation Sans", "fontSize": 13, "fontWeight": "bold", "color": "black", "anchor": "middle"}
}
}
